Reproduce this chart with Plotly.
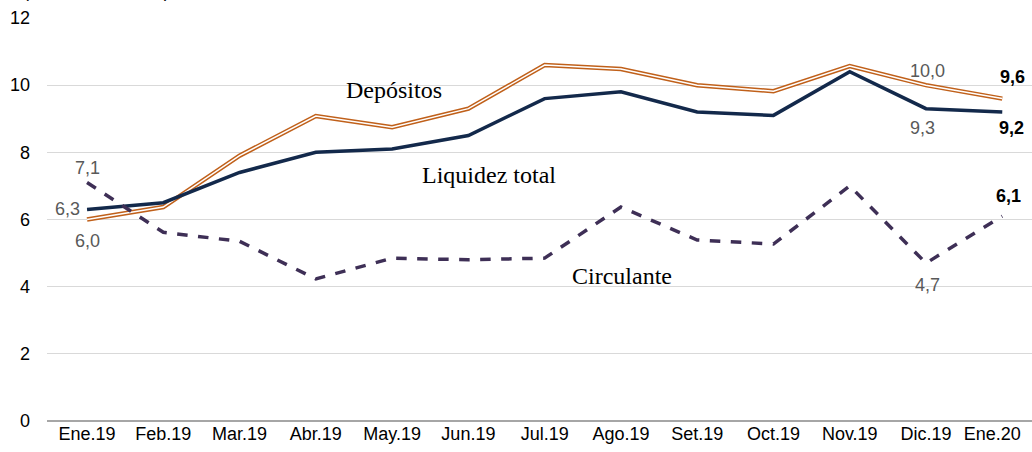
import plotly.graph_objects as go

months = ["Ene.19", "Feb.19", "Mar.19", "Abr.19", "May.19", "Jun.19", "Jul.19",
          "Ago.19", "Set.19", "Oct.19", "Nov.19", "Dic.19", "Ene.20"]
depositos = [6.0, 6.37, 7.9, 9.08, 8.75, 9.3, 10.6, 10.48, 10.0, 9.82, 10.57, 10.0, 9.6]
liquidez = [6.3, 6.5, 7.4, 8.0, 8.1, 8.5, 9.6, 9.8, 9.2, 9.1, 10.4, 9.3, 9.2]
circulante = [7.1, 5.62, 5.35, 4.23, 4.85, 4.8, 4.85, 6.37, 5.39, 5.27, 7.0, 4.7, 6.1]
y_ticks = [0, 2, 4, 6, 8, 10, 12]

fig = go.Figure()
fig.add_trace(go.Scatter(x=months, y=depositos, mode="lines",
                         line=dict(color="#C0601A", width=4.5), showlegend=False, cliponaxis=False))
fig.add_trace(go.Scatter(x=months, y=depositos, mode="lines",
                         line=dict(color="white", width=1.5), showlegend=False, cliponaxis=False))
fig.add_trace(go.Scatter(x=months, y=liquidez, mode="lines",
                         line=dict(color="#13294B", width=3.5), showlegend=False, cliponaxis=False))
fig.add_trace(go.Scatter(x=months, y=circulante, mode="lines",
                         line=dict(color="#3E2F56", width=3.5, dash="dash"), showlegend=False, cliponaxis=False))

def fmt(v):
    return f"{v:.1f}".replace(".", ",")

gray = dict(family="Liberation Sans, Arial", size=18, color="#595959")
bold = dict(family="Liberation Sans, Arial", size=18, color="#000000")
ann = []
def lab(i, series, xs, ys, font, b=False):
    t = fmt(series[i])
    if b:
        t = "<b>" + t + "</b>"
    ann.append(dict(x=months[i], y=series[i], text=t, showarrow=False,
                    xshift=xs, yshift=ys, font=font))

lab(0, circulante, 0, 15, gray)
lab(0, liquidez, -20, 0, gray)
lab(0, depositos, 0, -21, gray)
lab(11, depositos, 2, 14, gray)
lab(11, liquidez, -3, -19, gray)
lab(12, depositos, 10, 22, bold, True)
lab(12, liquidez, 9, -16, bold, True)
lab(12, circulante, 6, 20, bold, True)
lab(11, circulante, 2, -22, gray)

serif = dict(family="Liberation Serif, DejaVu Serif", size=24, color="#000000")
ann.append(dict(x=4.03, y=9.86, text="Depósitos", showarrow=False, font=serif))
ann.append(dict(x=5.27, y=7.33, text="Liquidez total", showarrow=False, font=serif))
ann.append(dict(x=7.02, y=4.32, text="Circulante", showarrow=False, font=serif))
ann.append(dict(xref="paper", yref="paper", x=-0.026, y=1.0, yshift=15, xanchor="left",
                yanchor="bottom", text="(Var. % 12 meses)", showarrow=False,
                font=dict(family="Liberation Sans, Arial", size=18, color="#000000")))

# last label nudged left so it stays inside the picture, as in the reference
tick_text = months[:-1] + [months[-1] + "&nbsp;&nbsp;&nbsp;&nbsp;"]

fig.update_layout(
    width=1032, height=452,
    margin=dict(l=47, r=0, t=18, b=31, autoexpand=False),
    paper_bgcolor="white", plot_bgcolor="white",
    annotations=ann,
    xaxis=dict(type="category", range=[-0.525, 12.39], showgrid=False, automargin=False,
               tickvals=months, ticktext=tick_text,
               showline=False, ticks="", tickfont=dict(family="Liberation Sans, Arial", size=18, color="#000"),
               ticklabelstandoff=0),
    yaxis=dict(range=[0, 12], tickvals=y_ticks, showgrid=True, gridcolor="#D9D9D9", automargin=False,
               gridwidth=1, zeroline=True, zerolinecolor="#A6A6A6", zerolinewidth=1.5,
               tickfont=dict(family="Liberation Sans, Arial", size=18, color="#000"),
               ticklabelstandoff=16),
)
fig.write_html("out.html", config={"displayModeBar": False},
               post_script="document.body.style.margin='0';")
